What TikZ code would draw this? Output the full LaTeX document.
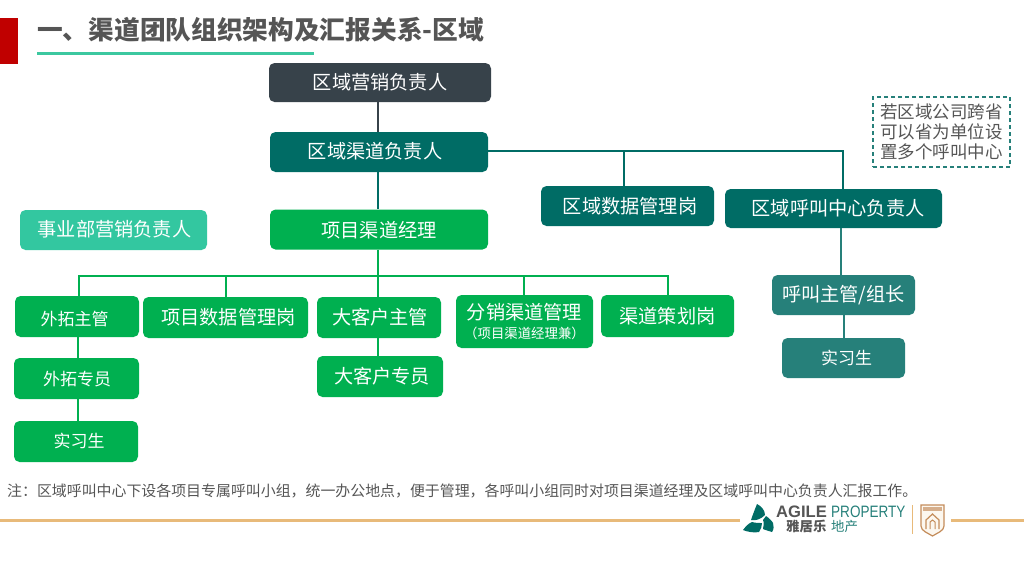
\documentclass[tikz,border=0pt]{standalone}
\usepackage{fontspec}
\setmainfont{Noto Sans CJK SC}
\setsansfont{Liberation Sans}

\definecolor{titlegray}{RGB}{85,85,85}
\definecolor{barRed}{RGB}{192,0,0}
\definecolor{ruleGreen}{RGB}{60,200,160}
\definecolor{boxDark}{RGB}{55,66,74}
\definecolor{boxTeal}{RGB}{0,108,101}
\definecolor{boxGreen}{RGB}{0,176,80}
\definecolor{boxMint}{RGB}{51,199,160}
\definecolor{boxSea}{RGB}{38,128,122}
\definecolor{ruleGold}{RGB}{232,186,122}
\definecolor{logoBrown}{RGB}{196,140,90}

\tikzset{
  orgbox/.style={rounded corners=5.5pt, inner sep=0pt},
  orgtext/.style={text=white, inner sep=0pt, font=\fontsize{19.2}{19.2}\selectfont},
  smalltext/.style={orgtext, font=\fontsize{17}{17}\selectfont},
  orgline/.style={line width=2.6pt},
}

\begin{document}
\begin{tikzpicture}[x=1pt, y=1pt]

\useasboundingbox (0,0) rectangle (1024,-576);

% ============================================================
% TITLE
% ============================================================
\fill[barRed] (0,-18) rectangle (18,-64);
\node[anchor=west, inner sep=0pt, text=titlegray, font=\fontsize{25.7}{25.7}\selectfont\bfseries]
  (title) at (37,-30) {一、渠道团队组织架构及汇报关系-区域};
\draw[ruleGreen, line width=3pt] (37,-53) -- (314,-53);

% ============================================================
% BOXES
% name, centre x, centre y, width, height, colour, text, text shift x, y
% ============================================================
\foreach \nm/\cx/\cy/\bw/\bh/\col/\lbl/\dx/\dy in {
  marketing/380/82.5/222/39/boxDark/区域营销负责人/0/0.5,
  channel/379/152/218/40/boxTeal/区域渠道负责人/-4/1,
  project/379/229.5/218/40/boxGreen/项目渠道经理/0/-0.5,
  division/113.5/230/187/40/boxMint/事业部营销负责人/1/0.5,
  regiondata/627.5/206/173/40/boxTeal/区域数据管理岗/2.5/0,
  callhead/833.5/208.5/217/39/boxTeal/区域呼叫中心负责人/4.5/0,
  projdata/225.5/317.5/165/41/boxGreen/项目数据管理岗/3/0,
  keyhead/379/317.5/124/41/boxGreen/大客户主管/1/0,
  keystaff/380/376.5/126/41/boxGreen/大客户专员/2/0,
  planning/667.5/316/133/42/boxGreen/渠道策划岗/0/0,
  calllead/843.5/295/143/40/boxSea/{呼叫主管/组长}/0/0}{
  \node[orgbox, fill=\col, minimum width=\bw pt, minimum height=\bh pt,
    label={[orgtext, xshift=\dx pt, yshift=\dy pt]center:\lbl}]
    (\nm) at (\cx,-\cy) {};
}

\foreach \nm/\cx/\cy/\bw/\bh/\col/\lbl/\dx/\dy in {
  fieldhead/77/316.5/124/41/boxGreen/外拓主管/-2.5/-3,
  fieldstaff/76.5/378.5/125/41/boxGreen/外拓专员/0.5/-1,
  fieldintern/76/441.5/124/41/boxGreen/实习生/3/0.5,
  callintern/843.5/358/123/40/boxSea/实习生/3/0.5}{
  \node[orgbox, fill=\col, minimum width=\bw pt, minimum height=\bh pt,
    label={[smalltext, xshift=\dx pt, yshift=\dy pt]center:\lbl}]
    (\nm) at (\cx,-\cy) {};
}

% two lines of text
\node[orgbox, orgtext, fill=boxGreen, minimum width=137pt, minimum height=53pt, align=center]
  (distribution) at (524.5,-321.5)
  {分销渠道管理\\[-1pt]{\fontsize{13.4}{13.4}\selectfont（项目渠道经理兼）}};

% Note at top right
\node[draw=boxSea, dash pattern=on 4pt off 3pt, line width=1.4pt, inner sep=0pt, text=titlegray,
  minimum width=137pt, minimum height=70pt, align=center,
  font=\fontsize{17.5}{20}\selectfont]
  (scopenote) at (941.5,-132)
  {若区域公司跨省\\可以省为单位设\\置多个呼叫中心};

% ============================================================
% CONNECTORS
% ============================================================
\coordinate (busL) at (79,-276);
\coordinate (busR) at (668,-276);
\coordinate (busM) at (378,-276);
\coordinate (dropA) at (226,-276);
\coordinate (dropB) at (524,-276);
\coordinate (fieldtrunk) at (78,-350);
\coordinate (turn) at (843,-151);
\coordinate (fork) at (624,-151);
\coordinate (calltrunk) at (841,-250);
\coordinate (leadtrunk) at (844,-325);

\draw[orgline, boxDark] (busM |- marketing.south) -- (busM |- channel.north);
\draw[orgline, boxTeal] (busM |- channel.south) -- (busM |- project.north);
\draw[orgline, boxTeal] (channel.east |- turn) -- (turn) -- (turn |- callhead.north);
\draw[orgline, boxTeal] (fork) -- (fork |- regiondata.north);
\draw[orgline, boxGreen] (busM |- project.south) -- (busM);
\draw[orgline, boxGreen, line cap=rect] (busL) -- (busR);
\draw[orgline, boxGreen] (busL) -- (busL |- fieldhead.north);
\draw[orgline, boxGreen] (busM) -- (busM |- keyhead.north);
\draw[orgline, boxGreen] (busR) -- (busR |- planning.north);
\draw[orgline, boxGreen] (dropA) -- (dropA |- projdata.north);
\draw[orgline, boxGreen] (dropB) -- (dropB |- distribution.north);
\draw[orgline, boxGreen] (fieldtrunk |- fieldhead.south) -- (fieldtrunk |- fieldstaff.north);
\draw[orgline, boxGreen] (fieldtrunk |- fieldstaff.south) -- (fieldtrunk |- fieldintern.north);
\draw[orgline, boxGreen] (busM |- keyhead.south) -- (busM |- keystaff.north);
\draw[orgline, boxSea] (calltrunk |- callhead.south) -- (calltrunk |- calllead.north);
\draw[orgline, boxSea] (leadtrunk |- calllead.south) -- (leadtrunk |- callintern.north);

% ============================================================
% FOOTNOTE AND FOOTER RULE
% ============================================================
\node[anchor=west, inner sep=0pt, text=titlegray, font=\fontsize{14.92}{15}\selectfont]
  (footnote) at (7,-491)
  {注：区域呼叫中心下设各项目专属呼叫小组，统一办公地点，便于管理，各呼叫小组同时对项目渠道经理及区域呼叫中心负责人汇报工作。};
\draw[ruleGold, line width=3pt] (0,-520) -- (740,-520);
\draw[ruleGold, line width=3pt] (951,-520) -- (1024,-520);

% ============================================================
% LOGO
% ============================================================
\fill[boxTeal] (757,-504) .. controls (761,-506) and (765,-510) .. (765,-515)
  .. controls (761,-519) and (756,-521) .. (751,-520) .. controls (753,-514) and (755,-509) .. (757,-504) -- cycle;
\fill[boxTeal] (743,-530) .. controls (746,-526) and (749,-523) .. (752,-522)
  .. controls (755,-523) and (759,-523) .. (762,-523) .. controls (762,-526) and (761,-529) .. (759,-532)
  .. controls (754,-533) and (748,-532) .. (743,-530) -- cycle;
\fill[boxTeal] (766,-516) .. controls (769,-518) and (772,-521) .. (773,-523)
  .. controls (774,-526) and (774,-529) .. (772,-532) .. controls (769,-531) and (765,-530) .. (763,-529)
  .. controls (764,-526) and (764,-522) .. (763,-520) -- cycle;
\node[anchor=west, inner sep=0pt, text=titlegray, font=\sffamily\bfseries\fontsize{16.6}{16.6}\selectfont]
  (logoagile) at (776,-511.5) {AGILE};
\node[anchor=west, inner sep=0pt, text=boxSea, font=\sffamily\fontsize{16.5}{16.5}\selectfont]
  (logoproperty) at (831,-511.5) {\scalebox{.82}[1]{PROPERTY}};
\node[anchor=west, inner sep=0pt, text=titlegray, font=\bfseries\fontsize{13.4}{13.4}\selectfont]
  (logocn) at (786,-526.5) {雅居乐};
\node[anchor=west, inner sep=0pt, text=boxSea, font=\fontsize{13.4}{13.4}\selectfont]
  (logocnb) at (831,-526.5) {地产};
\draw[ruleGold, line width=.8pt] (912,-505) -- (912,-534);
% shield
\draw[logoBrown, line width=1.2pt, fill=ruleGold!12]
  (921,-505) -- (944,-505) -- (944,-526) .. controls (944,-531) and (937,-533) .. (932.5,-536)
  .. controls (928,-533) and (921,-531) .. (921,-526) -- cycle;
\fill[logoBrown!70] (923,-507) rectangle (942,-511);
\draw[logoBrown, line width=1.2pt] (926,-529) -- (926,-520) -- (932.5,-514) -- (939,-520) -- (939,-529);
\draw[logoBrown, line width=1pt] (930,-529) -- (930,-522) -- (932.5,-520) -- (935,-522) -- (935,-529);

\end{tikzpicture}
\end{document}
